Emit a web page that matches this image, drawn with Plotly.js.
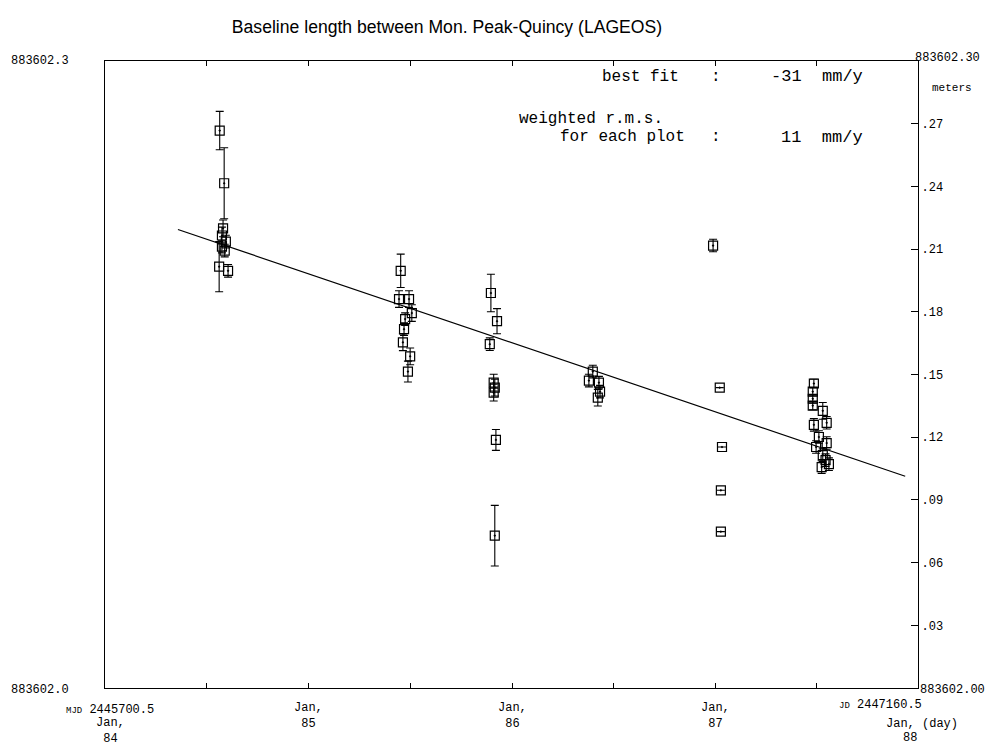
<!DOCTYPE html>
<html>
<head>
<meta charset="utf-8">
<script src="https://cdn.plot.ly/plotly-3.0.1.min.js"></script>
<style>html,body{margin:0;padding:0;background:#fff;}#chart{width:1005px;height:753px;}</style>
</head>
<body>
<div id="chart"></div>
<script>
// Days since JD 2445700.5 (Jan 1 1984); values = metres above 883602.00
const obsDay = [206, 214, 212, 210, 217, 210, 215, 205, 221,
  531, 528, 546, 551, 539, 537, 535, 548, 544,
  693, 704, 691, 698, 700, 698, 702, 700,
  876, 869, 887, 889, 885,
  1092, 1104, 1108, 1106, 1106,
  1273, 1271, 1271, 1271, 1289, 1296, 1273, 1282, 1296, 1277, 1289, 1294, 1300, 1287];
const obsVal = [0.2667, 0.2415, 0.2199, 0.2165, 0.2136, 0.2112, 0.2093, 0.2016, 0.1996,
  0.1996, 0.1861, 0.1861, 0.1794, 0.1765, 0.1717, 0.1654, 0.1587, 0.1514,
  0.1890, 0.1755, 0.1645, 0.1461, 0.1437, 0.1413, 0.1187, 0.0729,
  0.1514, 0.1471, 0.1461, 0.1418, 0.1389,
  0.2117, 0.1437, 0.1153, 0.0946, 0.0748,
  0.1457, 0.1418, 0.1384, 0.1351, 0.1326, 0.1269, 0.1259, 0.1201, 0.1172, 0.1153, 0.1114, 0.1090, 0.1071, 0.1057];
const obsErr = [0.0092, 0.017, 0.004, 0.004, 0.003, 0.003, 0.003, 0.012, 0.003,
  0.008, 0.004, 0.004, 0.004, 0.003, 0.003, 0.004, 0.004, 0.005,
  0.009, 0.006, 0.003, 0.004, 0.004, 0.004, 0.005, 0.0145,
  0.003, 0.003, 0.003, 0.003, 0.004,
  0.003, 0, 0, 0, 0,
  0.002, 0.002, 0.002, 0.002, 0.004, 0.003, 0.003, 0.003, 0.003, 0.003, 0.003, 0.003, 0.003, 0.003];
const fitDay = [131, 1437];
const fitVal = [0.2194, 0.1013];
const rightTickVals = [0.03, 0.06, 0.09, 0.12, 0.15, 0.18, 0.21, 0.24, 0.27];
const rightTickText = ['.03', '.06', '.09', '.12', '.15', '.18', '.21', '.24', '.27'];
const halfYearTicks = [183, 366, 548, 731, 913, 1096, 1278];
const yearDays = [366, 731, 1096];
const yearLabels = ['Jan,<br>85', 'Jan,<br>86', 'Jan,<br>87'];

const W = 1005, H = 753, L = 105, R = 918, T = 61, B = 688;
const px = x => (x - L) / (R - L);
const py = y => (B - y) / (B - T);
const mono = 'Liberation Mono, DejaVu Sans Mono, monospace';

const traces = [
  {x: fitDay, y: fitVal, type: 'scatter', mode: 'lines', line: {color: '#000', width: 1.2}, hoverinfo: 'skip', showlegend: false},
  {x: obsDay, y: obsVal, type: 'scatter', mode: 'markers',
   marker: {symbol: 'square-open-dot', size: 9, color: '#000', line: {width: 1.2, color: '#000'}},
   error_y: {type: 'data', array: obsErr, visible: true, color: '#000', thickness: 1.1, width: 4},
   showlegend: false},
  {x: [0], y: [0], yaxis: 'y2', type: 'scatter', mode: 'markers', marker: {opacity: 0}, hoverinfo: 'skip', showlegend: false}
];

const ann = [];
function add(text, x, y, opts) {
  ann.push(Object.assign({text: text, xref: 'paper', yref: 'paper', x: px(x), y: py(y), showarrow: false,
    xanchor: 'center', yanchor: 'middle', font: {family: mono, size: 12, color: '#000'}}, opts || {}));
}
add('883602.3', 40, 61);
add('883602.0', 40, 690);
add('883602.30', 947, 58);
add('meters', 952, 88, {font: {family: mono, size: 11, color: '#000'}});
add('883602.00', 952, 690);
add('<span style="font-size:9px">MJD</span> 2445700.5', 110, 710);
add('Jan,<br>84', 110, 731, {font: {family: mono, size: 12, color: '#000'}});
yearDays.forEach((d, i) => {
  ann.push({text: yearLabels[i], xref: 'x', yref: 'paper', x: d, y: py(716), showarrow: false,
    xanchor: 'center', yanchor: 'middle', font: {family: mono, size: 12, color: '#000'}});
});
add('<span style="font-size:9px">JD</span> 2447160.5', 880, 705);
add('Jan, (day)', 922, 724);
add('88', 910, 738);
const bf = {family: mono, size: 16, color: '#000'};
const bf2 = {family: mono, size: 17, color: '#000'};
add('best fit', 640, 77, {font: bf});
add(':', 716, 77, {font: bf});
add('-31  mm/y', 865, 77, {font: bf2, xanchor: 'right'});
add('weighted r.m.s.', 591, 119, {font: bf});
add('for each plot', 622, 137, {font: bf});
add(':', 716, 137, {font: bf});
add('11  mm/y', 865, 137, {font: bf2, xanchor: 'right'});

const layout = {
  width: W, height: H,
  margin: {l: L, r: W - R, t: T, b: H - B},
  paper_bgcolor: '#fff', plot_bgcolor: '#fff',
  title: {text: 'Baseline length between Mon. Peak-Quincy (LAGEOS)', x: 447 / W, xanchor: 'center', y: 1 - 27 / H, yanchor: 'middle',
    font: {family: 'Liberation Sans, Arial, sans-serif', size: 17.6, color: '#000'}},
  xaxis: {range: [0, 1460], showgrid: false, zeroline: false, showline: true, linecolor: '#000', linewidth: 1.2,
    mirror: 'ticks', ticks: 'inside', ticklen: 5, tickcolor: '#000', tickvals: halfYearTicks, showticklabels: false},
  yaxis: {range: [0, 0.3], showgrid: false, zeroline: false, showline: true, linecolor: '#000', linewidth: 1.2,
    ticks: '', showticklabels: false},
  yaxis2: {range: [0, 0.3], overlaying: 'y', side: 'right', showgrid: false, zeroline: false, showline: true,
    linecolor: '#000', linewidth: 1.2, ticks: 'inside', ticklen: 7, tickcolor: '#000',
    tickvals: rightTickVals, ticktext: rightTickText, tickfont: {family: mono, size: 12, color: '#000'}},
  annotations: ann,
  showlegend: false
};
Plotly.newPlot('chart', traces, layout, {displayModeBar: false, staticPlot: true});
</script>
</body>
</html>
